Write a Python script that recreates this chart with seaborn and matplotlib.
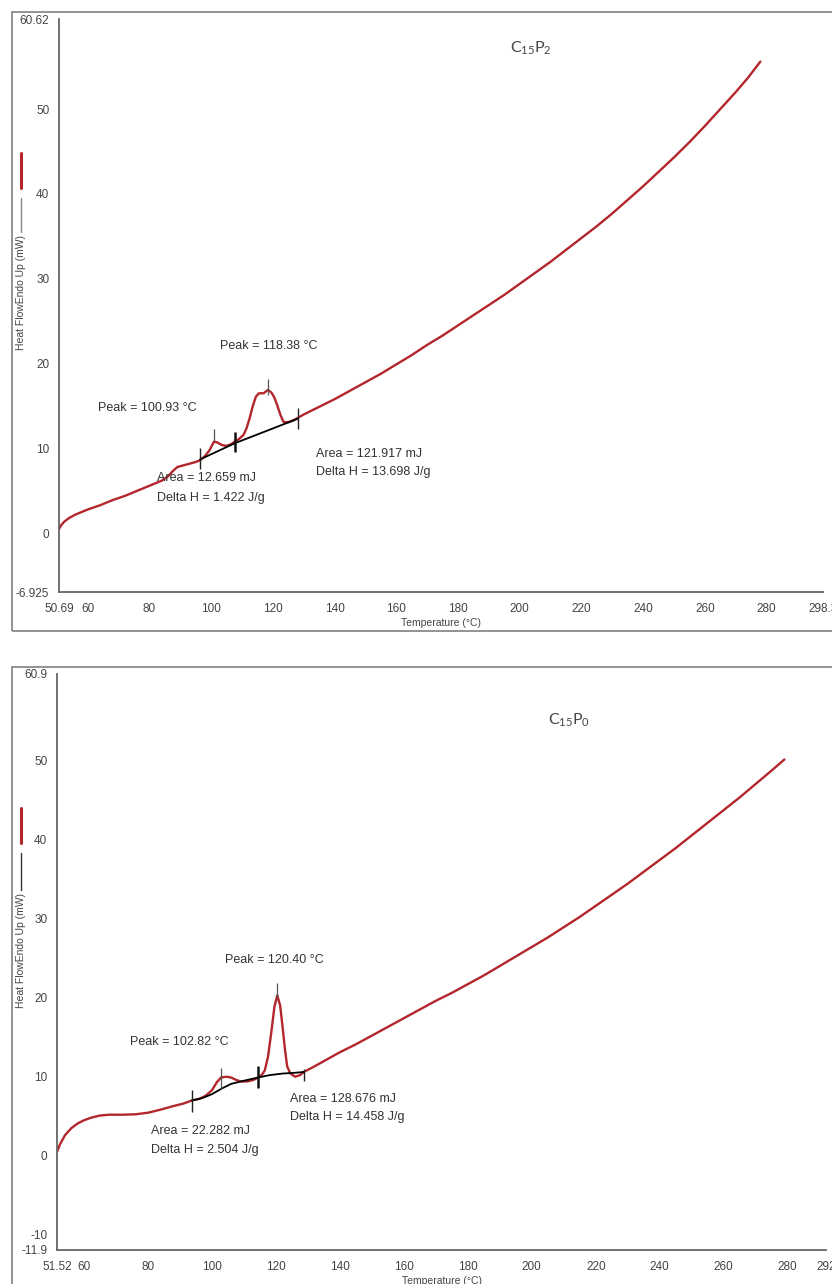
import numpy as np
import pandas as pd
import matplotlib
matplotlib.use("Agg")
import matplotlib.pyplot as plt
import seaborn as sns
from matplotlib.patches import Rectangle
from matplotlib.lines import Line2D

# === Data ===
# C15P2 (top)
temp_p2 = [50.69, 51.5, 52.5, 54, 56, 58, 60, 64, 68, 72, 76, 80, 84, 86, 87.5, 89, 91, 93, 95,
           96.4, 98, 99.5, 100.9, 102, 103.5, 105, 106.5, 107.6, 109, 110.5, 111.5, 112.5, 113.5,
           114.5, 115.5, 117, 118.4, 119.5, 120.5, 121.5, 122.5, 123.5, 125, 126.5, 128.1, 130,
           135, 140, 145, 150, 155, 160, 165, 170, 175, 180, 185, 190, 195, 200, 205, 210, 215,
           220, 225, 230, 235, 240, 245, 250, 255, 260, 265, 270, 274, 278]
heat_p2 = [0.5, 1.0, 1.4, 1.8, 2.2, 2.5, 2.8, 3.3, 3.9, 4.4, 5.0, 5.6, 6.2, 6.7, 7.3, 7.8, 8.0, 8.2, 8.4,
           8.6, 9.1, 9.8, 10.8, 10.7, 10.4, 10.3, 10.5, 10.8, 11.1, 11.6, 12.4, 13.6, 15.0,
           16.1, 16.5, 16.5, 16.9, 16.6, 16.0, 15.0, 13.9, 13.1, 13.1, 13.3, 13.6, 14.0,
           14.9, 15.8, 16.8, 17.8, 18.8, 19.9, 21.0, 22.2, 23.3, 24.5, 25.7, 26.9, 28.1, 29.4, 30.7,
           32.0, 33.4, 34.8, 36.2, 37.7, 39.3, 40.9, 42.6, 44.3, 46.1, 48.0, 50.0, 52.0, 53.7, 55.6]
base_t_p2 = [96.4, 107.6, 128.1]
base_h_p2 = [8.7, 10.6, 13.5]
mark_t_p2 = [96.4, 100.93, 107.6, 118.38, 128.1]
mark_lo_p2 = [7.6, 10.9, 9.6, 16.3, 12.3]
mark_hi_p2 = [10.0, 12.3, 11.9, 18.2, 14.8]

# C15P0 (bottom)
temp_p0 = [51.52, 52.5, 54, 56, 58, 60, 62, 65, 68, 72, 76, 80, 84, 88, 91, 93.7, 96, 98, 100,
           101.5, 102.8, 104.5, 106, 107.5, 109, 111, 113, 114.4, 115.5, 116.5, 117.5, 118.5,
           119.5, 120.4, 121.3, 122, 122.8, 123.5, 124.5, 126, 127.5, 128.7, 132, 136, 140,
           145, 150, 155, 160, 165, 170, 175, 180, 185, 190, 195, 200, 205, 210, 215, 220, 225,
           230, 235, 240, 245, 250, 255, 260, 265, 270, 275, 279]
heat_p0 = [0.5, 1.5, 2.6, 3.5, 4.1, 4.5, 4.8, 5.1, 5.2, 5.2, 5.25, 5.45, 5.85, 6.3, 6.6, 7.0, 7.2, 7.6, 8.3,
           9.3, 9.9, 10.0, 9.9, 9.6, 9.4, 9.4, 9.6, 9.9, 10.2, 10.8, 12.5, 15.5,
           18.8, 20.3, 19.0, 16.5, 13.5, 11.3, 10.4, 10.0, 10.2, 10.6, 11.3, 12.2, 13.1,
           14.1, 15.2, 16.3, 17.4, 18.5, 19.6, 20.6, 21.7, 22.8, 24.0, 25.2, 26.4, 27.6, 28.9, 30.2,
           31.6, 33.0, 34.4, 35.9, 37.4, 38.9, 40.5, 42.1, 43.7, 45.3, 47.0, 48.7, 50.1]
base_t_p0 = [93.7, 97, 100, 103, 106, 110, 114.4, 118, 122, 126, 128.7]
base_h_p0 = [7.0, 7.3, 7.8, 8.5, 9.1, 9.5, 9.9, 10.2, 10.4, 10.5, 10.6]
mark_t_p0 = [93.7, 102.82, 114.4, 120.4, 128.7]
mark_lo_p0 = [5.6, 8.5, 8.6, 19.9, 9.5]
mark_hi_p0 = [8.3, 11.1, 11.4, 21.8, 11.0]

xticks_p2 = [50.69, 60, 80, 100, 120, 140, 160, 180, 200, 220, 240, 260, 280, 298.3]
yticks_p2 = [-6.925, 0, 10, 20, 30, 40, 50, 60.62]
xticks_p0 = [51.52, 60, 80, 100, 120, 140, 160, 180, 200, 220, 240, 260, 280, 292]
yticks_p0 = [-11.9, -10, 0, 10, 20, 30, 40, 50, 60.9]

RED = "#b3262b"
TXT = "#333333"

sns.set_style("white")
plt.rcParams['font.family'] = ['Liberation Sans', 'DejaVu Sans']
plt.rcParams['mathtext.default'] = 'regular'

fig = plt.figure(figsize=(8.32, 12.84), dpi=100)

# outer frames around each panel
fig.patches.append(Rectangle((12 / 832, 1 - 631 / 1284), 1.2, (631 - 12) / 1284, transform=fig.transFigure,
                             fill=False, edgecolor="#8a8a8a", lw=1.3))
fig.patches.append(Rectangle((12 / 832, -0.1), 1.2, 0.1 + (1284 - 667) / 1284, transform=fig.transFigure,
                             fill=False, edgecolor="#8a8a8a", lw=1.3))


def fmt(v):
    return ("%g" % v)


def draw_panel(rect, temp, heat, bt, bh, mt, mlo, mhi, xt, yt, xlim, ylim, name, title_xy):
    ax = fig.add_axes(rect)
    df = pd.DataFrame({"T": temp, "H": heat})
    sns.lineplot(data=df, x="T", y="H", ax=ax, color=RED, linewidth=1.7, estimator=None, sort=False,
                 solid_joinstyle="round")
    sns.lineplot(x=bt, y=bh, ax=ax, color="black", linewidth=1.3, estimator=None, sort=False)
    lws = [1.0, 0.9, 1.8, 0.9, 1.0]
    cols = ["#222", "#555", "#111", "#555", "#222"]
    for t, lo, hi, lw, c in zip(mt, mlo, mhi, lws, cols):
        ax.vlines(t, lo, hi, color=c, lw=lw)
    ax.set_xlim(*xlim)
    ax.set_ylim(*ylim)
    ax.set_xticks(xt)
    ax.set_xticklabels([fmt(v) for v in xt])
    ax.set_yticks(yt)
    ax.set_yticklabels([fmt(v) for v in yt])
    for lab in [ax.get_yticklabels()[0], ax.get_yticklabels()[-1]]:
        lab.set_fontsize(7)
    ax.get_xticklabels()[0].set_fontsize(8)
    for s in ["top", "right"]:
        ax.spines[s].set_visible(False)
    for s in ["left", "bottom"]:
        ax.spines[s].set_color("#666")
        ax.spines[s].set_linewidth(1.3)
    ax.tick_params(direction="out", length=3, width=1, color="#555", labelcolor="#444",
                   labelsize=8.5, pad=4)
    ax.tick_params(axis="x", pad=5)
    ax.set_xlabel("Temperature (°C)", fontsize=7.5, color="#444", labelpad=2)
    ax.set_ylabel("")
    ax.text(title_xy[0], title_xy[1], r"C$_{15}$P$_{%s}$" % name, fontsize=11.5, color="#444",
            family=["Lato", "DejaVu Sans"], ha="left", va="center")
    return ax


ax1 = draw_panel([59 / 832, 1 - 592 / 1284, (823 - 59) / 832, (592 - 19) / 1284],
                 temp_p2, heat_p2, base_t_p2, base_h_p2, mark_t_p2, mark_lo_p2, mark_hi_p2,
                 xticks_p2, yticks_p2, (50.69, 298.3), (-6.925, 60.62), "2", (196.7, 57.2))
ax2 = draw_panel([57 / 832, 1 - 1250 / 1284, (826 - 57) / 832, (1250 - 674) / 1284],
                 temp_p0, heat_p0, base_t_p0, base_h_p0, mark_t_p0, mark_lo_p0, mark_hi_p0,
                 xticks_p0, yticks_p0, (51.52, 292), (-11.9, 60.9), "0", (205, 55.0))

kw = dict(fontsize=9, color=TXT, ha="left", va="center")
ax1.text(103, 22.1, "Peak = 118.38 °C", **kw)
ax1.text(63.4, 14.8, "Peak = 100.93 °C", **kw)
ax1.text(82.6, 6.5, "Area = 12.659 mJ", **kw)
ax1.text(82.6, 4.2, "Delta H = 1.422 J/g", **kw)
ax1.text(133.9, 9.3, "Area = 121.917 mJ", **kw)
ax1.text(133.9, 7.2, "Delta H = 13.698 J/g", **kw)

ax2.text(104, 24.8, "Peak = 120.40 °C", **kw)
ax2.text(74.3, 14.4, "Peak = 102.82 °C", **kw)
ax2.text(80.9, 3.2, "Area = 22.282 mJ", **kw)
ax2.text(80.9, 0.8, "Delta H = 2.504 J/g", **kw)
ax2.text(124.3, 7.2, "Area = 128.676 mJ", **kw)
ax2.text(124.3, 4.9, "Delta H = 14.458 J/g", **kw)

# y label with the little legend strokes above it
for (red_top, red_bot, ln_top, ln_bot, lab_c, lc) in [(153, 188, 198, 232, 292, "#888"),
                                                       (808, 843, 853, 890, 950, "#333")]:
    fig.lines.append(Line2D([21 / 832, 21 / 832], [1 - red_top / 1284, 1 - red_bot / 1284],
                            transform=fig.transFigure, color=RED, lw=2.2))
    fig.lines.append(Line2D([21 / 832, 21 / 832], [1 - ln_top / 1284, 1 - ln_bot / 1284],
                            transform=fig.transFigure, color=lc, lw=1.0))
    fig.text(21 / 832, 1 - lab_c / 1284, "Heat FlowEndo Up (mW)", rotation=90, fontsize=7.5,
             color="#444", ha="center", va="center")

fig.savefig("out.png", dpi=100)
